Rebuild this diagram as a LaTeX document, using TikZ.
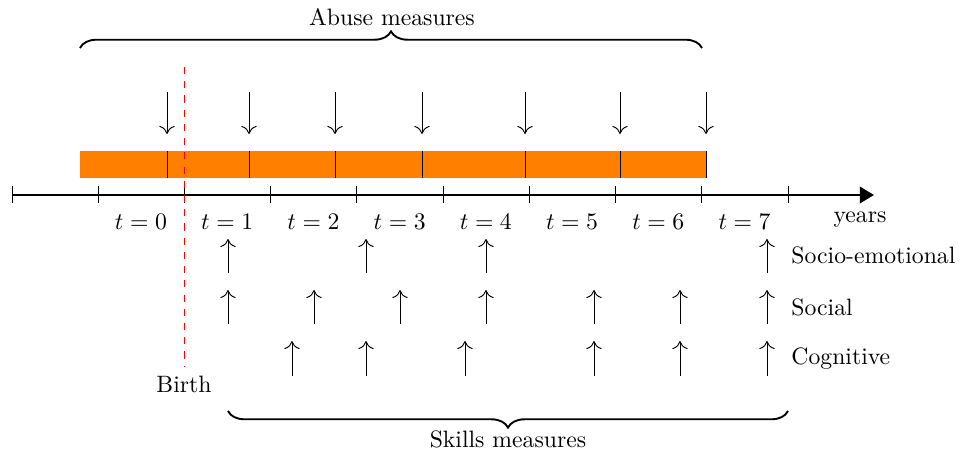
\documentclass[tikz,border=0pt]{standalone}
\usetikzlibrary{decorations.pathreplacing,arrows.meta}
\begin{document}
\begin{tikzpicture}[x=0.4219pt,y=-0.4219pt,
  lbl/.style={inner sep=0pt,anchor=base},
  meas/.style={-{To[length=3.4pt,width=6.5pt]}},
  bracestyle/.style={thick,decorate,decoration={brace,amplitude=7pt}}]
\useasboundingbox (0,0) rectangle (959,452);
% orange bar
\fill[orange] (80,151) rectangle (707,178);
\foreach \x [count=\i] in {167,249,335,422,525,620,706}{
  \coordinate (bt\i) at (\x,151);
  \coordinate (bb\i) at (\x,178);
  \draw (bt\i) -- (bb\i);
  \coordinate (da\i) at (\x,92);
  \coordinate (db\i) at (\x,134);
  \draw[meas] (da\i) -- (db\i);
}
% axis
\coordinate (ax0) at (12,195);
\coordinate (ax1) at (874,195);
\draw[thick,-{Triangle[length=6pt,width=7pt]}] (ax0) -- (ax1);
\foreach \i in {0,...,9}{
  \coordinate (tk\i a) at ({12+86.22*\i},186);
  \coordinate (tk\i b) at ({12+86.22*\i},203);
  \draw (tk\i a) -- (tk\i b);
}
\foreach \i in {0,...,7}{
  \node[lbl] (t\i) at ({141+86.22*\i},229) {$t=\i$};
}
\node[lbl] (years) at (860,222) {years};
% birth line
\coordinate (rb0) at (184,67);
\coordinate (rb1) at (184,367);
\draw[red,dashed] (rb0) -- (rb1);
\node[lbl] (birth) at (184,392) {Birth};
% skills rows
\foreach \x [count=\i] in {228,366,486,767}{
  \coordinate (sea\i) at (\x,273); \coordinate (seb\i) at (\x,239);
  \draw[meas] (sea\i) -- (seb\i);
}
\foreach \x [count=\i] in {228,314,400,486,594,680,767}{
  \coordinate (soa\i) at (\x,324); \coordinate (sob\i) at (\x,290);
  \draw[meas] (soa\i) -- (sob\i);
}
\foreach \x [count=\i] in {292,366,465,594,680,767}{
  \coordinate (coa\i) at (\x,376); \coordinate (cob\i) at (\x,341);
  \draw[meas] (coa\i) -- (cob\i);
}
\node[lbl,anchor=base west] (se) at (791,263) {Socio-emotional};
\node[lbl,anchor=base west] (so) at (791,315) {Social};
\node[lbl,anchor=base west] (co) at (791,364) {Cognitive};
% braces
\coordinate (ab0) at (80,48);
\coordinate (ab1) at (702,48);
\draw[bracestyle] (ab0) -- (ab1);
\node[lbl] (abuse) at (392,25) {Abuse measures};
\coordinate (sk0) at (788,411);
\coordinate (sk1) at (228,411);
\draw[bracestyle] (sk0) -- (sk1);
\node[lbl] (skills) at (508,447) {Skills measures};
\end{tikzpicture}
\end{document}
